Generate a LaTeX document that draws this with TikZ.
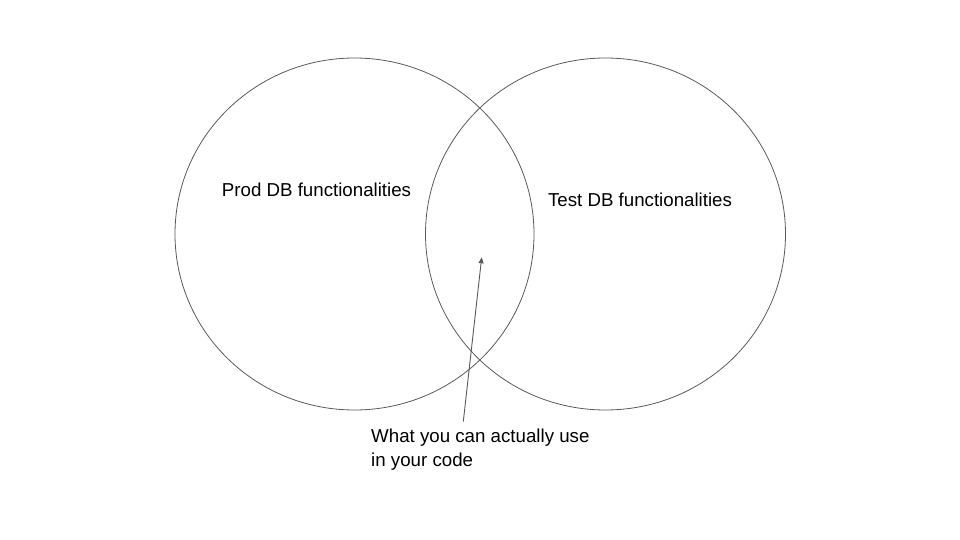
\documentclass[tikz,border=0pt]{standalone}
\usepackage{fontspec}
\setmainfont{Liberation Sans}
\usetikzlibrary{arrows.meta,shapes.geometric}
\begin{document}
\begin{tikzpicture}[x=1pt,y=-1pt,
  venn/.style={draw=black!65,line width=0.8pt,ellipse,inner sep=0pt},
  lbl/.style={font=\fontsize{18.7}{24}\selectfont,inner sep=0pt},
  pointer/.style={draw=black!65,line width=0.9pt,-{Triangle[length=6pt,width=5pt]}}]
\useasboundingbox (0,0) rectangle (960,540);
\node[venn,minimum width=359pt,minimum height=352pt] (prod) at (354.5,234) {};
\node[venn,minimum width=360pt,minimum height=352pt] (test) at (605.5,234) {};
\node[lbl] (prodlbl) at (316.5,190) {Prod DB functionalities};
\node[lbl] (testlbl) at (640,200) {Test DB functionalities};
\node[lbl,anchor=north west,align=left] (use) at (371,428.5) {What you can actually use\\in your code};
\coordinate (tail) at (463.3,421.5);
\coordinate (tip) at (481.7,257.3);
\draw[pointer] (tail) -- (tip);
\end{tikzpicture}
\end{document}
